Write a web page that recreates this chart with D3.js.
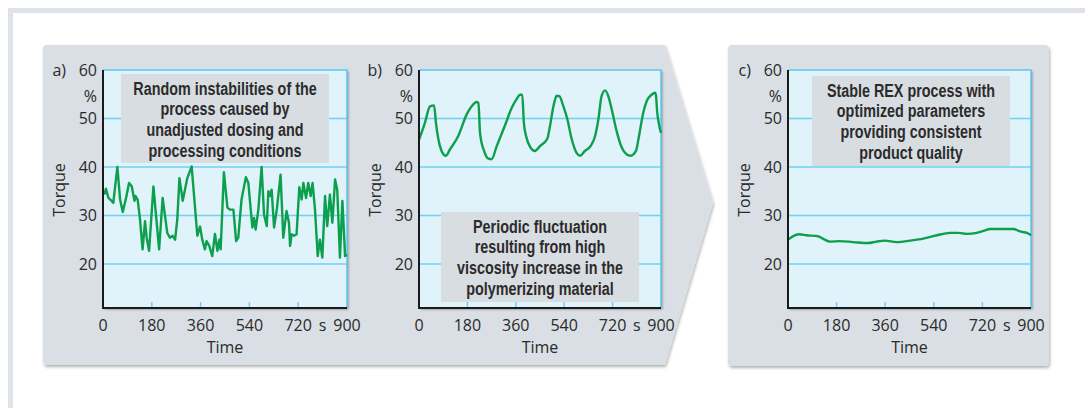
<!DOCTYPE html>
<html lang="en">
<head>
    <meta charset="UTF-8">
    <title>Torque over time - REX process</title>
    <script src="https://d3js.org/d3.v7.min.js"></script>
    <style>
        body {
            margin: 0;
            background: #ffffff;
            font-family: "Open Sans", Arial, sans-serif;
        }
        svg { display: block; }
        .tick-label { font-size: 16px; fill: #2a2a2a; }
        .axis-title { font-size: 16px; fill: #2a2a2a; }
        .note {
            font-family: "Liberation Sans", Arial, sans-serif;
            font-size: 17.5px;
            font-weight: bold;
            fill: #2b2b2b;
            text-anchor: middle;
        }
    </style>
</head>
<body>
<svg id="chart" width="1085" height="408"></svg>

<script>
    // ---- data (time in s, torque in %) ----
    const yTicks = [20, 30, 40, 50, 60];
    const xTicks = [0, 180, 360, 540, 720, 900];

    const timeA = [4, 11, 20, 32, 38, 53, 63, 73, 85, 96, 106, 116, 120, 128, 136, 146, 155, 161, 170, 186,
        198, 207, 220, 237, 247, 257, 266, 274, 282, 294, 311, 327, 348, 358, 366, 376, 382, 392, 403, 413,
        422, 429, 434, 446, 459, 468, 481, 491, 499, 511, 527, 536, 551, 557, 563, 573, 585, 594, 604, 610,
        616, 622, 631, 641, 655, 665, 677, 686, 690, 696, 705, 714, 724, 733, 739, 749, 757, 766, 773, 782,
        792, 800, 809, 819, 827, 837, 846, 856, 864, 874, 883, 893, 899];
    const torqueA = [34.3, 35.5, 33.6, 33, 32.6, 40, 33.3, 30.7, 33.6, 36.7, 36, 33, 34, 33.2, 29.5, 23, 28.8, 25.4, 22.7, 36,
        28.5, 23, 33.6, 26.4, 25.4, 25.8, 25, 29.2, 37.7, 33, 37.7, 40.1, 25.8, 27.7, 25, 23, 24.7, 23.7, 21.6, 26.2,
        22.7, 25, 23, 38.9, 31.6, 31.2, 31.2, 24.7, 25.4, 33.3, 37.9, 36.7, 27.5, 29.5, 27.1, 31.2, 40, 30.2, 27.8, 35,
        34, 35.3, 27.5, 31.2, 38.4, 25.4, 30.9, 28.5, 23.7, 26.1, 25.8, 26.1, 35.8, 33.3, 36.7, 33.6, 36.7, 34, 36.7, 31.2,
        21.6, 25, 21.3, 34, 27.8, 34.3, 28.5, 37.4, 35.3, 21.3, 33, 21.6, 22];

    const timeB = [0, 22, 41, 56, 63, 72, 84, 100, 115, 146, 177, 196, 214, 221, 227, 242, 258, 270, 289, 320,
        345, 363, 376, 384, 390, 400, 415, 431, 450, 477, 487, 500, 512, 522, 537, 552, 568, 586, 599, 617,
        638, 655, 667, 679, 692, 704, 717, 735, 754, 772, 787, 807, 816, 834, 847, 865, 878, 881, 886, 894, 900];
    const torqueB = [45.6, 49.1, 52.5, 52.7, 49.1, 45.7, 43.3, 42.3, 43.6, 46.4, 50.8, 52.5, 53.4, 53.2, 47, 43.3, 41.7, 41.6, 44.3, 48.6,
        52.2, 54, 54.9, 54.9, 49.1, 46, 44, 43.3, 44.3, 45.8, 48.4, 52.5, 54.7, 54.6, 52.5, 49.8, 45.7, 42.9, 42.3, 43.3,
        44.3, 46.4, 49.8, 54.6, 55.8, 54.6, 51.8, 47.4, 44, 42.6, 42.3, 43.3, 45.7, 51.2, 53.6, 54.9, 55.3, 54.9, 51.2, 48.4, 47];

    const timeC = [0, 25, 43, 68, 111, 136, 155, 192, 241, 297, 328, 359, 402, 452, 501, 551, 600, 631, 662, 699,
        724, 749, 786, 836, 854, 867, 885, 900];
    const torqueC = [25, 25.9, 26.1, 25.9, 25.7, 25, 24.6, 24.7, 24.5, 24.3, 24.6, 24.8, 24.5, 24.8, 25.2, 25.9, 26.4, 26.4, 26.2, 26.4,
        26.8, 27.2, 27.2, 27.2, 26.8, 26.6, 26.4, 25.9];

    const notes = [
        ["Random instabilities of the", "process caused by", "unadjusted dosing and", "processing conditions"],
        ["Periodic fluctuation", "resulting from high", "viscosity increase in the", "polymerizing material"],
        ["Stable REX process with", "optimized parameters", "providing consistent", "product quality"]
    ];
    const letters = ["a)", "b)", "c)"];

    // ---- layout ----
    const panels = [
        { left: 103, right: 347, t: timeA, v: torqueA, note: notes[0], letter: letters[0], curve: d3.curveLinear,
          box: { x: 121, y: 74, w: 208, h: 89 } },
        { left: 419, right: 661, t: timeB, v: torqueB, note: notes[1], letter: letters[1], curve: d3.curveMonotoneX,
          box: { x: 441, y: 212, w: 198, h: 90 } },
        { left: 788, right: 1031, t: timeC, v: torqueC, note: notes[2], letter: letters[2], curve: d3.curveMonotoneX,
          box: { x: 812, y: 76, w: 198, h: 90 } }
    ];
    const plotTop = 70, plotBottom = 308;
    const noteSquash = 0.82; // the original uses a condensed face

    const svg = d3.select("#chart");
    const defs = svg.append("defs");
    defs.append("filter").attr("id", "panelShadow")
        .attr("x", "-5%").attr("y", "-5%").attr("width", "110%").attr("height", "115%")
        .append("feDropShadow")
        .attr("dx", 1).attr("dy", 2).attr("stdDeviation", 1.6)
        .attr("flood-color", "#000").attr("flood-opacity", 0.3);
    defs.append("filter").attr("id", "plotShadow")
        .attr("x", "-5%").attr("y", "-5%").attr("width", "112%").attr("height", "112%")
        .append("feDropShadow")
        .attr("dx", 1.5).attr("dy", 1.5).attr("stdDeviation", 1.3)
        .attr("flood-color", "#000").attr("flood-opacity", 0.35);

    // outer frame
    svg.append("rect")
        .attr("x", 10.5).attr("y", 10.5).attr("width", 1100).attr("height", 420)
        .attr("fill", "none").attr("stroke", "#dde3e8").attr("stroke-width", 5);

    // gray backgrounds: a+b with arrow, c as rounded box
    const r = 4;
    const abPath = `M${43 + r},45 L665,45 L713,203 L665,365 L${43 + r},365 Q43,365 43,${365 - r}
                    L43,${45 + r} Q43,45 ${43 + r},45 Z`;
    svg.append("path").attr("d", abPath)
        .attr("fill", "#d9dfe4").attr("filter", "url(#panelShadow)");
    svg.append("rect")
        .attr("x", 728).attr("y", 45).attr("width", 321).attr("height", 321).attr("rx", r)
        .attr("fill", "#d9dfe4").attr("filter", "url(#panelShadow)");

    const line = d3.line();

    panels.forEach(p => {
        const x = d3.scaleLinear().domain([0, 900]).range([p.left, p.right]);
        const y = d3.scaleLinear().domain([10.9, 60]).range([plotBottom, plotTop]);
        const g = svg.append("g");

        // plot background
        g.append("rect")
            .attr("x", p.left).attr("y", plotTop)
            .attr("width", p.right - p.left).attr("height", plotBottom - plotTop)
            .attr("fill", "#e0f2fa").attr("filter", "url(#plotShadow)");

        // grid lines
        g.selectAll(".grid").data(yTicks.slice(0, -1)).enter().append("line")
            .attr("x1", p.left).attr("x2", p.right)
            .attr("y1", d => y(d)).attr("y2", d => y(d))
            .attr("stroke", "#6fd0f2").attr("stroke-width", 1.5);

        // x ticks pointing up from the axis
        g.selectAll(".xt").data(xTicks.slice(1, -1)).enter().append("line")
            .attr("x1", d => x(d)).attr("x2", d => x(d))
            .attr("y1", plotBottom).attr("y2", plotBottom - 6)
            .attr("stroke", "#6fd0f2").attr("stroke-width", 1.5);

        // top / right border
        g.append("path")
            .attr("d", `M${p.left},${plotTop} H${p.right} V${plotBottom}`)
            .attr("fill", "none").attr("stroke", "#5cc6ee").attr("stroke-width", 1.5);

        // note box
        g.append("rect")
            .attr("x", p.box.x).attr("y", p.box.y).attr("width", p.box.w).attr("height", p.box.h)
            .attr("fill", "#d8dde2");
        const cx = p.box.x + p.box.w / 2;
        g.selectAll(".note").data(p.note).enter().append("text")
            .attr("class", "note")
            .attr("transform", (d, i) => `translate(${cx},${p.box.y + 20.5 + i * 20.7}) scale(${noteSquash},1)`)
            .text(d => d);

        // data line
        line.x((d, i) => x(p.t[i])).y(d => y(d)).curve(p.curve);
        g.append("path")
            .attr("d", line(p.v))
            .attr("fill", "none").attr("stroke", "#0c9f4d")
            .attr("stroke-width", 2.4).attr("stroke-linejoin", "round");

        // left / bottom axis lines
        g.append("path")
            .attr("d", `M${p.left},${plotTop} V${plotBottom} H${p.right}`)
            .attr("fill", "none").attr("stroke", "#1a1a1a").attr("stroke-width", 2);

        // y labels
        g.selectAll(".yl").data(yTicks).enter().append("text")
            .attr("class", "tick-label")
            .attr("x", p.left - 6).attr("y", d => y(d)).attr("dy", "0.36em")
            .attr("text-anchor", "end")
            .text(d => d);
        g.append("text").attr("class", "tick-label")
            .attr("x", p.left - 6).attr("y", y(54.6)).attr("dy", "0.36em")
            .attr("text-anchor", "end").text("%");

        // x labels
        g.selectAll(".xl").data(xTicks).enter().append("text")
            .attr("class", "tick-label")
            .attr("x", d => x(d)).attr("y", 331)
            .attr("text-anchor", "middle")
            .text(d => d);
        g.append("text").attr("class", "tick-label")
            .attr("x", x(810)).attr("y", 331)
            .attr("text-anchor", "middle").text("s");

        // titles
        g.append("text").attr("class", "axis-title")
            .attr("x", x(450)).attr("y", 353)
            .attr("text-anchor", "middle").text("Time");
        g.append("text").attr("class", "axis-title")
            .attr("transform", `translate(${p.left - 38},190) rotate(-90)`)
            .attr("text-anchor", "middle").text("Torque");

        g.append("text").attr("class", "tick-label")
            .attr("x", p.left - 37).attr("y", plotTop).attr("dy", "0.36em")
            .attr("text-anchor", "end").text(p.letter);
    });
</script>
</body>
</html>
